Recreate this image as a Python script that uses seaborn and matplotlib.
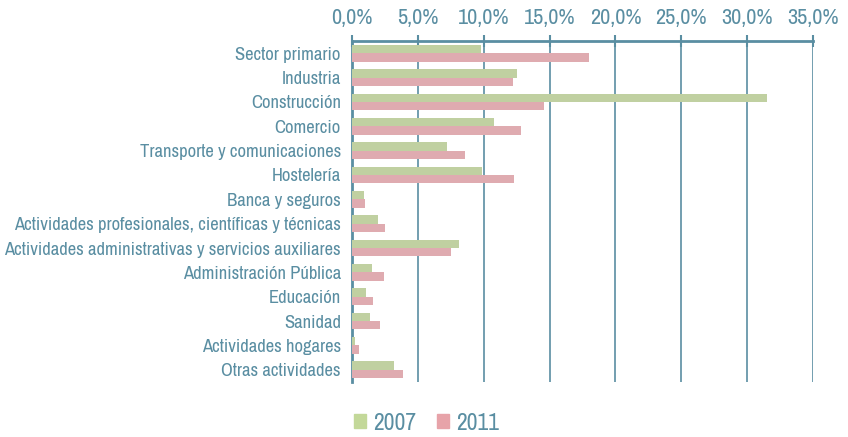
import numpy as np
import pandas as pd
import matplotlib
matplotlib.use("Agg")
import matplotlib.pyplot as plt
from matplotlib.ticker import FuncFormatter, FixedLocator
from matplotlib.patches import Patch
import seaborn as sns

sectores = ["Sector primario", "Industria", "Construcción", "Comercio",
            "Transporte y comunicaciones", "Hostelería", "Banca y seguros",
            "Actividades profesionales, científicas y técnicas",
            "Actividades administrativas y servicios auxiliares",
            "Administración Pública", "Educación", "Sanidad",
            "Actividades hogares", "Otras actividades"]
v2007 = [9.8, 12.5, 31.5, 10.8, 7.2, 9.9, 0.9, 2.0, 8.1, 1.5, 1.1, 1.4, 0.25, 3.2]
v2011 = [18.0, 12.2, 14.6, 12.8, 8.6, 12.3, 1.0, 2.5, 7.5, 2.4, 1.6, 2.1, 0.5, 3.9]
years = ["2007", "2011"]

df = pd.DataFrame({"sector": sectores * 2,
                   "valor": v2007 + v2011,
                   "year": [years[0]] * len(sectores) + [years[1]] * len(sectores)})

sns.set_style("white")
plt.rcParams["font.family"] = ["Archivo Narrow", "Liberation Sans", "DejaVu Sans"]

teal = "#5a8ea2"
colores = {"2007": "#c3d899", "2011": "#e7a3a9"}

fig = plt.figure(figsize=(8.48, 4.37), dpi=100)
ax = fig.add_axes([0.415, 0.126, 0.5437, 0.78])

sns.barplot(data=df, y="sector", x="valor", hue="year", palette=colores,
            orient="h", width=0.68, ax=ax, legend=False, zorder=3, linewidth=0)

ax.set_xlim(0, 35)
ax.set_ylim(len(sectores) - 0.5, -0.5)
ax.xaxis.set_major_locator(FixedLocator(np.arange(0, 36, 5)))
ax.xaxis.set_major_formatter(FuncFormatter(lambda v, p: f"{v:.1f}%".replace(".", ",")))
ax.xaxis.tick_top()
ax.tick_params(axis="x", colors=teal, labelcolor=teal, labelsize=16,
               direction="inout", length=9, width=1.5, pad=5)
ax.grid(axis="x", color=teal, lw=1.2, zorder=0)

ax.yaxis.set_minor_locator(FixedLocator(np.arange(-0.5, len(sectores), 1)))
ax.tick_params(axis="y", which="major", length=0, labelcolor=teal, labelsize=13.4, pad=8)
ax.tick_params(axis="y", which="minor", length=5, width=2, color=teal, direction="out")

for s in ["right", "bottom"]:
    ax.spines[s].set_visible(False)
for s in ["top", "left"]:
    ax.spines[s].set_color(teal)
    ax.spines[s].set_linewidth(2)

ax.set_xlabel("")
ax.set_ylabel("")

handles = [Patch(color=colores[y]) for y in years]
fig.legend(handles, years, loc="center", bbox_to_anchor=(0.503, 0.032), ncol=2,
           frameon=False, fontsize=17, labelcolor=teal, handlelength=0.5,
           handleheight=0.5, handletextpad=0.3, columnspacing=0.9)

fig.savefig("out.png", dpi=100)
